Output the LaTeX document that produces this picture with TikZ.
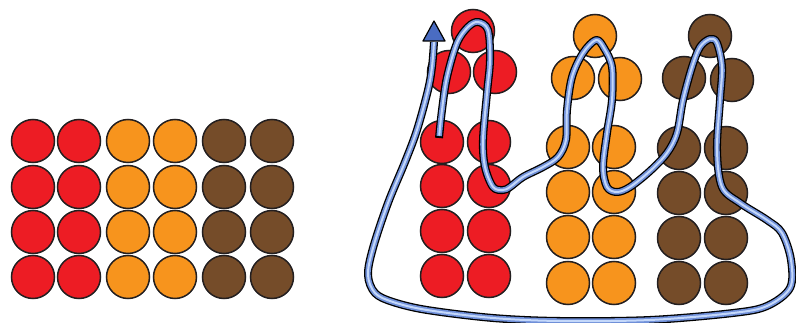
\documentclass[tikz,border=0pt]{standalone}
\usetikzlibrary{shapes.geometric}
\definecolor{bred}{HTML}{ED1C24}
\definecolor{borange}{HTML}{F7941D}
\definecolor{bbrown}{HTML}{754C29}
\definecolor{bline}{HTML}{231F20}
\definecolor{tubeblue}{HTML}{6F8FD8}
\definecolor{tubelight}{HTML}{C4D8FA}
\definecolor{arrowblue}{HTML}{4A6CC2}
\tikzset{
  ball/.style={circle, draw=bline, line width=1.5pt, minimum size=43pt, inner sep=0pt},
  redball/.style={ball, fill=bred},
  orangeball/.style={ball, fill=borange},
  brownball/.style={ball, fill=bbrown},
  tubeouter/.style={draw=black, line width=8pt, line join=round},
  tubemid/.style={draw=tubeblue, line width=5.4pt, line join=round},
  tubeinner/.style={draw=tubelight, line width=2pt, line join=round},
  arrowtip/.style={fill=arrowblue, draw=black, line width=1.2pt, line join=round}
}
\newcommand{\tubepts}{(439,138) (442,110) (447,77) (457,43) (468,27) (478,22) (488,30) (490,60) (487,93) (483,140) (485,167) (493,187) (503,190) (510,187) (523,177) (543,167) (558,157) (566,140) (567,110) (572,77) (583,53) (596,40) (604,48) (612,67) (612,100) (607,133) (603,167) (607,187) (617,192) (630,187) (650,171) (667,153) (677,133) (683,100) (692,67) (700,47) (710,39) (717,43) (722,67) (720,100) (717,150) (722,187) (740,203) (767,220) (782,233) (791,260) (790,288) (767,306) (733,313) (650,320) (560,321) (493,318) (427,310) (393,302) (375,293) (368,275) (373,248) (388,203) (405,162) (417,130) (428,90) (432,67) (434,42)}
\begin{document}
\begin{tikzpicture}[x=1pt,y=-1pt]
\useasboundingbox (0,0) rectangle (796,323);
% left grid
\foreach \c/\x/\s in {1/33/redball,2/79/redball,3/128/orangeball,4/175/orangeball,5/224/brownball,6/272/brownball}{
  \foreach \r/\y in {1/141,2/187,3/232,4/277}{
    \node[\s] (L\c\r) at (\x,\y) {};
  }
}
% right red group
\node[redball] (RT) at (473,31) {};
\node[redball] (RA1) at (449,72) {};
\node[redball] (RA2) at (495,72) {};
\foreach \r/\y in {1/142,2/186,3/231,4/276}{
  \node[redball] (RC1\r) at (442,\y) {};
  \node[redball] (RC2\r) at (489,\y) {};
}
% orange group
\node[orangeball] (OT) at (595,36) {};
\node[orangeball] (OA1) at (573,78) {};
\node[orangeball] (OA2) at (620,79) {};
\foreach \r/\y in {1/147,2/192,3/237,4/283}{
  \node[orangeball] (OC1\r) at (568,\y) {};
  \node[orangeball] (OC2\r) at (614,\y) {};
}
% brown group
\node[brownball] (BT) at (710,36) {};
\node[brownball] (BA1) at (684,78) {};
\node[brownball] (BA2) at (732,80) {};
\foreach \r/\y in {1/148,2/193,3/238,4/283}{
  \node[brownball] (BC1\r) at (679,\y) {};
  \node[brownball] (BC2\r) at (726,\y) {};
}
% tube
\draw[tubeouter] plot[smooth, tension=0.55] coordinates {\tubepts};
\draw[tubemid, shorten <=2pt] plot[smooth, tension=0.55] coordinates {\tubepts};
\draw[tubeinner, shorten <=2.5pt] plot[smooth, tension=0.55] coordinates {\tubepts};
% arrow head
\coordinate (tip) at (434,21);
\draw[arrowtip] (tip) -- (445,41) -- (423,41) -- cycle;
\end{tikzpicture}
\end{document}
